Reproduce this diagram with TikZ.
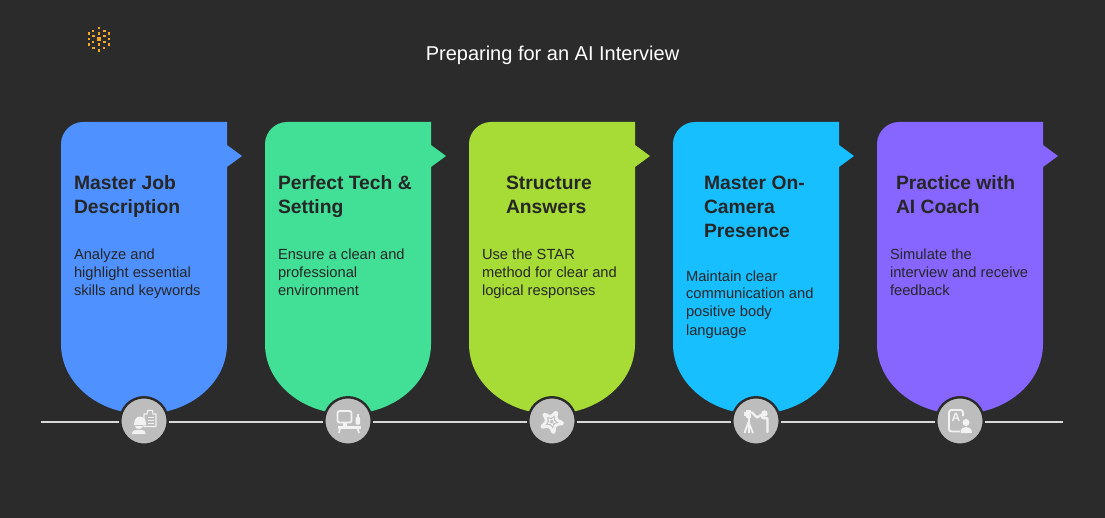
\documentclass[tikz,border=0pt]{standalone}
\usepackage{fontspec}
\setmainfont{Liberation Sans}
\definecolor{bg}{HTML}{2B2B2B}
\definecolor{ink}{HTML}{262626}
\definecolor{cblue}{HTML}{4F91FF}
\definecolor{cgreen}{HTML}{42E097}
\definecolor{clime}{HTML}{A6DC35}
\definecolor{ccyan}{HTML}{18BFFF}
\definecolor{cpurple}{HTML}{8766FF}
\definecolor{disc}{HTML}{BDBDBD}
\definecolor{icon}{HTML}{F2F2F2}
\definecolor{logo}{HTML}{F5A623}
\newcommand{\cardshape}[2]{%
  \fill[#2] (#1,144) .. controls (#1,132) and (#1+10,122) .. (#1+22,122) -- (#1+166,122) -- (#1+166,145) -- (#1+181,156) -- (#1+166,167)
    -- (#1+166,344) .. controls (#1+166,383) and (#1+129,414) .. (#1+83,414)
    .. controls (#1+37,414) and (#1,383) .. (#1,344) -- cycle;}
\tikzset{
  x=1pt,y=-1pt,
  head/.style={anchor=base west,inner sep=0pt,outer sep=0pt,text=ink,align=left,font=\fontsize{19.3}{24}\selectfont\bfseries},
  body/.style={anchor=base west,inner sep=0pt,outer sep=0pt,text=ink,align=left,font=\fontsize{14.7}{18}\selectfont},
  disc/.style={circle,fill=disc,draw=bg,line width=2.4pt,minimum size=47.5pt,inner sep=0pt,outer sep=1pt},
  rail/.style={draw=white!85!black,line width=2pt},
  dot/.style={fill=logo},
  icf/.style={fill=icon},
}
\begin{document}
\begin{tikzpicture}
\useasboundingbox (0,0) rectangle (1105,518);
\fill[bg] (0,0) rectangle (1105,518);
% logo
\foreach \a/\b in {99/28,93/31,104.3/31,89/33.7,109/33.7,99/33.7,93.3/36.3,104.3/36.3,89/39,109/39,93/42,104.3/42,89/44.7,109/44.7,99/44.7,93.3/48,104/48,99/50.7}
  \fill[dot] (\a-1.2,\b-1.2) rectangle (\a+1.2,\b+1.2);
\fill[dot] (96.8,37.3) rectangle (100.8,41.3);
\node[text=white,font=\fontsize{20}{24}\selectfont] (title) at (552.5,55) {Preparing for an AI Interview};
% cards
\cardshape{61}{cblue}
\cardshape{265}{cgreen}
\cardshape{469}{clime}
\cardshape{673}{ccyan}
\cardshape{877}{cpurple}
% text
\node[head] (h1) at (74,214) {Master Job\\Description};
\node[body] (b1) at (74,296) {Analyze and\\highlight essential\\skills and keywords};
\node[head] (h2) at (278,214) {Perfect Tech \&\\Setting};
\node[body] (b2) at (278,296) {Ensure a clean and\\professional\\environment};
\node[head] (h3) at (506,214) {Structure\\Answers};
\node[body] (b3) at (482,296) {Use the STAR\\method for clear and\\logical responses};
\node[head] (h4) at (704,238) {Master On-\\Camera\\Presence};
\node[body] (b4) at (686,335) {Maintain clear\\communication and\\positive body\\language};
\node[head] (h5) at (896,214) {Practice with\\AI Coach};
\node[body] (b5) at (890,296) {Simulate the\\interview and receive\\feedback};
% timeline
\node[disc] (c1) at (144,421) {};
\node[disc] (c2) at (348,421) {};
\node[disc] (c3) at (552,421) {};
\node[disc] (c4) at (756,421) {};
\node[disc] (c5) at (960,421) {};
\coordinate (railL) at (41,421.5);
\coordinate (railR) at (1063,421.5);
\draw[rail] (railL) -- (c1.west |- railL);
\draw[rail] (c1.east |- railL) -- (c2.west |- railL);
\draw[rail] (c2.east |- railL) -- (c3.west |- railL);
\draw[rail] (c3.east |- railL) -- (c4.west |- railL);
\draw[rail] (c4.east |- railL) -- (c5.west |- railL);
\draw[rail] (c5.east |- railL) -- (railR);
% icon 1
\begin{scope}[shift={(144,421)}]
  \draw[icon,line width=1.1pt,line join=round] (0,-7) -- (0,5.5) -- (12,5.5) -- (12,-7) -- (9,-7) -- (8.5,-10.5) -- (3.5,-10.5) -- (3,-7) -- cycle;
  \foreach \v in {-3.5,-.5,2.5}{\draw[icon,line width=1pt] (4,\v) -- (10,\v); }
  \fill[icf] (-12.5,4) -- (-10,4) .. controls (-10,-2) and (-7,-4.5) .. (-4,-4.5) .. controls (-1,-4.5) and (2,-2) .. (2,2) -- (2,4) -- cycle;
  \fill[icf] (-9.5,5) .. controls (-9.5,9) and (-1,9) .. (-1,5) -- cycle;
  \fill[icf] (-12,13) .. controls (-12,9) and (-9,9) .. (-5,9) .. controls (-1,9) and (1.5,9) .. (1.5,13) -- cycle;
\end{scope}
% icon 2
\begin{scope}[shift={(348,421)}]
  \draw[icon,line width=1.8pt,rounded corners=2pt] (-10.5,-10) rectangle (3.5,1.5);
  \fill[icf] (-5.5,1.5) rectangle (-1.5,5);
  \fill[icf] (-10.5,5) rectangle (12.5,7.5);
  \draw[icon,line width=1.7pt] (-8,7) -- (-9,12);
  \draw[icon,line width=1.7pt] (9.5,7) -- (11,12);
  \fill[icf,rounded corners=1pt] (7.5,-4) rectangle (12,3.5);
  \fill[icf] (9,-7) rectangle (10.5,-4);
\end{scope}
% icon 3
\begin{scope}[shift={(551.7,421.7)},rotate=10]
  \draw[icon,line width=2.8pt,line join=round]
    plot[smooth cycle,tension=.8] coordinates {(90:11) (126:5.5) (162:11) (198:5.5) (234:10.5) (270:5.5) (306:10.5) (342:5.5) (18:11) (54:5.5)};
  \draw[icon,line width=.9pt,line join=round]
    (90:4) -- (126:1.8) -- (162:4) -- (198:1.8) -- (234:4) -- (270:1.8) -- (306:4) -- (342:1.8) -- (18:4) -- (54:1.8) -- cycle;
\end{scope}
% icon 4
\begin{scope}[shift={(756,421)}]
  \fill[icf] (-10.5,-11) rectangle (-5,-3.5);
  \fill[icf] (-12.5,-9) rectangle (-10.5,-5);
  \draw[icon,line width=2pt] (-7.5,-3) -- (-7.5,12);
  \draw[icon,line width=1.8pt] (-7.5,1) -- (-11.5,12);
  \draw[icon,line width=1.8pt] (-7.5,1) -- (-3,12);
  \fill[icf] (8.5,-7.5) circle (3.2);
  \draw[icon,line width=2.4pt,line join=round,line cap=round] (-4,-8.5) -- (1,-3.5) -- (5,-6) ;
  \draw[icon,line width=2.4pt,line join=round,line cap=round] (5,-6) -- (7,-3) -- (11.5,-2.5) -- (11.5,11);
\end{scope}
% icon 5
\begin{scope}[shift={(960,421)}]
  \draw[icon,line width=1.9pt,rounded corners=2.5pt] (3,-5) -- (3,-11) -- (-11,-11) -- (-11,10.5) -- (0,10.5);
  \node[text=icon,font=\fontsize{12}{12}\selectfont\bfseries,inner sep=0pt] (letterA) at (-4,-3.5) {A};
  \fill[icf] (6,1.5) circle (3.5);
  \fill[icf] (0.5,12) .. controls (0.5,7.5) and (3,6) .. (6,6) .. controls (9,6) and (12,7.5) .. (12,12) -- cycle;
\end{scope}
\end{tikzpicture}
\end{document}
